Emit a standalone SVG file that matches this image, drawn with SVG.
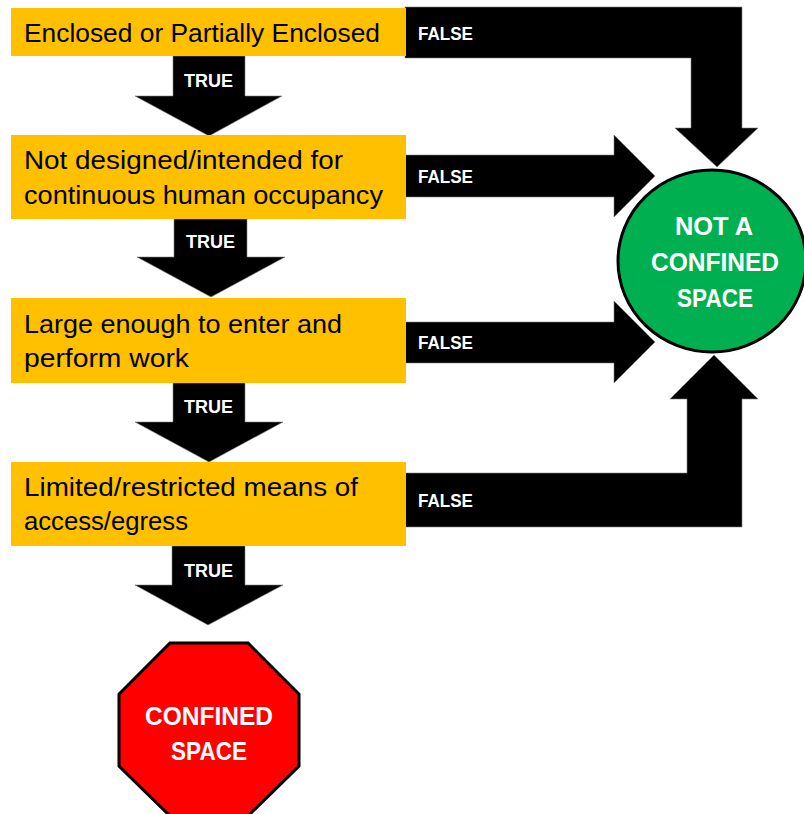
<svg xmlns="http://www.w3.org/2000/svg" width="804" height="814" viewBox="0 0 804 814">
  <style>
    .box { fill: #FFC000; }
    .arrow { fill: #000000; stroke: #7f7f7f; stroke-width: 0.6; }
    .btxt { font-family: "Liberation Sans", Arial, sans-serif; font-size: 26px; fill: #000000; }
    .lbl { font-family: "Liberation Sans", Arial, sans-serif; font-weight: bold; font-size: 19px; fill: #ffffff; }
    .big { font-family: "Liberation Sans", Arial, sans-serif; font-weight: bold; font-size: 25px; fill: #ffffff; text-anchor: middle; }
  </style>
  <rect width="804" height="814" fill="#ffffff"/>

  <!-- connectors: block arrows -->
  <g id="connectors">
    <!-- TRUE arrows (downward) -->
    <path class="arrow" d="M173,56 H245 V96 H282 L209,136 L135,96 H173 Z"/>
    <path class="arrow" d="M174,219 H247 V257 H285 L211,297 L137,257 H174 Z"/>
    <path class="arrow" d="M173,383 H245 V422 H283 L209,462 L135,422 H173 Z"/>
    <path class="arrow" d="M172,546 H245 V585 H283 L208,625 L135,585 H172 Z"/>
    <!-- FALSE arrows toward the green circle -->
    <path class="arrow" d="M405,7 H742 V128 H758 L717,167 L675,128 H691 V58 H405 Z"/>
    <path class="arrow" d="M405,155 H614 V135 L655,176 L614,217 V197 H405 Z"/>
    <path class="arrow" d="M405,322 H614 V301 L655,342 L614,383 V363 H405 Z"/>
    <path class="arrow" d="M405,473 H687 V399 H670 L714,355 L758,399 H742 V527 H405 Z"/>

    <text class="lbl" x="184" y="87" textLength="49" lengthAdjust="spacingAndGlyphs">TRUE</text>
    <text class="lbl" x="186" y="248" textLength="49" lengthAdjust="spacingAndGlyphs">TRUE</text>
    <text class="lbl" x="184" y="413" textLength="49" lengthAdjust="spacingAndGlyphs">TRUE</text>
    <text class="lbl" x="184" y="577" textLength="49" lengthAdjust="spacingAndGlyphs">TRUE</text>

    <text class="lbl" x="418" y="40" textLength="55" lengthAdjust="spacingAndGlyphs">FALSE</text>
    <text class="lbl" x="418" y="183" textLength="55" lengthAdjust="spacingAndGlyphs">FALSE</text>
    <text class="lbl" x="418" y="349" textLength="55" lengthAdjust="spacingAndGlyphs">FALSE</text>
    <text class="lbl" x="418" y="507" textLength="55" lengthAdjust="spacingAndGlyphs">FALSE</text>
  </g>

  <!-- decision boxes -->
  <g id="q1">
    <rect class="box" x="11" y="8" width="395" height="48"/>
    <text class="btxt" x="24" y="42" textLength="356" lengthAdjust="spacingAndGlyphs">Enclosed or Partially Enclosed</text>
  </g>
  <g id="q2">
    <rect class="box" x="11" y="135" width="395" height="84"/>
    <text class="btxt" x="24" y="169" textLength="319" lengthAdjust="spacingAndGlyphs">Not designed/intended for</text>
    <text class="btxt" x="24" y="204" textLength="359" lengthAdjust="spacingAndGlyphs">continuous human occupancy</text>
  </g>
  <g id="q3">
    <rect class="box" x="11" y="298" width="395" height="85"/>
    <text class="btxt" x="24" y="333" textLength="318" lengthAdjust="spacingAndGlyphs">Large enough to enter and</text>
    <text class="btxt" x="24" y="367" textLength="165" lengthAdjust="spacingAndGlyphs">perform work</text>
  </g>
  <g id="q4">
    <rect class="box" x="11" y="462" width="395" height="84"/>
    <text class="btxt" x="24" y="496" textLength="334" lengthAdjust="spacingAndGlyphs">Limited/restricted means of</text>
    <text class="btxt" x="24" y="530" textLength="164" lengthAdjust="spacingAndGlyphs">access/egress</text>
  </g>

  <!-- outcome: not a confined space -->
  <g id="not-confined">
    <ellipse cx="712" cy="261" rx="94" ry="91" fill="#00B050" stroke="#000000" stroke-width="3"/>
    <text class="big" x="714" y="235" textLength="78" lengthAdjust="spacingAndGlyphs">NOT A</text>
    <text class="big" x="715" y="271" textLength="128" lengthAdjust="spacingAndGlyphs">CONFINED</text>
    <text class="big" x="715" y="307" textLength="76" lengthAdjust="spacingAndGlyphs">SPACE</text>
  </g>

  <!-- outcome: confined space -->
  <g id="confined">
    <polygon points="170,643 248,643 299,694 299,766 248,816 170,816 119,766 119,694" fill="#FF0000" stroke="#000000" stroke-width="3"/>
    <text class="big" x="209" y="725" textLength="128" lengthAdjust="spacingAndGlyphs">CONFINED</text>
    <text class="big" x="209" y="760" textLength="76" lengthAdjust="spacingAndGlyphs">SPACE</text>
  </g>
</svg>
